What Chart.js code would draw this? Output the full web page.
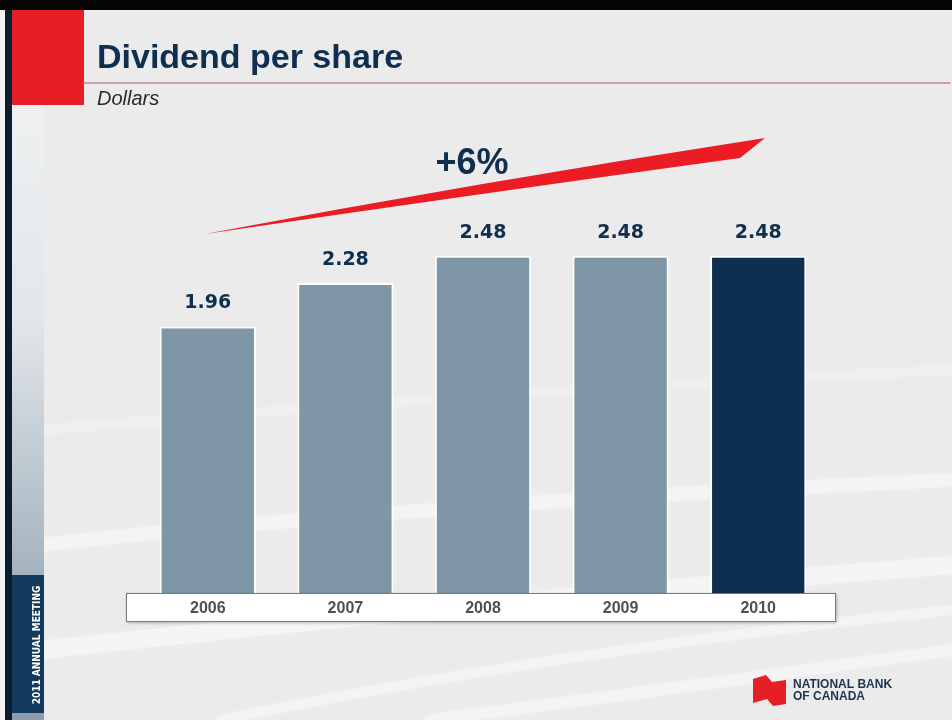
<!DOCTYPE html>
<html>
<head>
<meta charset="utf-8">
<script src="https://cdn.jsdelivr.net/npm/chart.js@4"></script>
<style>
  html, body { margin: 0; padding: 0; background: #ececec; }
  canvas { display: block; }
</style>
</head>
<body>
<canvas id="c" width="952" height="720"></canvas>
<script>
// ---- data ----
const categories = ['2006', '2007', '2008', '2009', '2010'];
const dividends = [1.96, 2.28, 2.48, 2.48, 2.48];
const valueLabels = ['1.96', '2.28', '2.48', '2.48', '2.48'];
const growthLabel = '+6%';
const titleText = 'Dividend per share';
const subtitleText = 'Dollars';
const sideText = '2011 ANNUAL MEETING';
const logoLines = ['NATIONAL BANK', 'OF CANADA'];

// ---- styles ----
const barColors = ['#7e96a6', '#7e96a6', '#7e96a6', '#7e96a6', '#0d3050'];
const navy = '#0f2f4f';

const decor = {
  id: 'decor',
  beforeDraw(chart) {
    const ctx = chart.ctx;
    ctx.save();
    // page background
    ctx.fillStyle = '#ebebeb';
    ctx.fillRect(0, 0, 952, 720);
    // faint swooshes
    ctx.lineCap = 'round';
    const sw = [
      [[40, 545], [400, 505], [952, 480], 'rgba(255,255,255,0.35)', 14],
      [[40, 650], [500, 600], [952, 565], 'rgba(255,255,255,0.4)', 18],
      [[220, 720], [560, 650], [952, 610], 'rgba(255,255,255,0.35)', 10],
      [[430, 720], [650, 692], [952, 650], 'rgba(255,255,255,0.35)', 12],
      [[40, 430], [500, 390], [952, 370], 'rgba(255,255,255,0.18)', 10]
    ];
    ctx.shadowColor = 'rgba(255,255,255,0.6)';
    ctx.shadowBlur = 8;
    sw.forEach(s => {
      ctx.strokeStyle = s[3];
      ctx.lineWidth = s[4];
      ctx.beginPath();
      ctx.moveTo(s[0][0], s[0][1]);
      ctx.quadraticCurveTo(s[1][0], s[1][1], s[2][0], s[2][1]);
      ctx.stroke();
    });
    ctx.shadowColor = 'transparent';
    ctx.shadowBlur = 0;
    // top black band
    ctx.fillStyle = '#050505';
    ctx.fillRect(0, 0, 952, 10);
    // left light strip + dark band
    ctx.fillStyle = '#f2f2f2';
    ctx.fillRect(0, 10, 5, 710);
    ctx.fillStyle = '#0b1e2e';
    ctx.fillRect(5, 10, 7, 710);
    // sidebar column gradient
    const g = ctx.createLinearGradient(0, 105, 0, 575);
    g.addColorStop(0, '#eef0f1');
    g.addColorStop(0.45, '#e3e7ea');
    g.addColorStop(1, '#a3b3bf');
    ctx.fillStyle = g;
    ctx.fillRect(12, 105, 32, 470);
    ctx.fillStyle = '#123a5d';
    ctx.fillRect(12, 575, 32, 138);
    ctx.fillStyle = '#8c9eac';
    ctx.fillRect(12, 713, 32, 7);
    // rotated side text
    ctx.save();
    ctx.translate(37, 645);
    ctx.rotate(-Math.PI / 2);
    ctx.fillStyle = '#ffffff';
    ctx.font = 'bold 10px "DejaVu Sans Condensed", "DejaVu Sans", sans-serif';
    ctx.textAlign = 'center';
    ctx.textBaseline = 'middle';
    ctx.fillText(sideText, 0, 0);
    ctx.restore();
    // red square
    ctx.fillStyle = '#e61e25';
    ctx.fillRect(12, 10, 72, 95);
    // title
    ctx.fillStyle = navy;
    ctx.font = 'bold 34px "Liberation Sans", Arial, sans-serif';
    ctx.textAlign = 'left';
    ctx.textBaseline = 'alphabetic';
    ctx.fillText(titleText, 97, 68);
    // title rule
    ctx.strokeStyle = '#c9868b';
    ctx.lineWidth = 1.5;
    ctx.beginPath();
    ctx.moveTo(84, 83);
    ctx.lineTo(950, 83);
    ctx.stroke();
    // subtitle
    ctx.fillStyle = '#2a2a2a';
    ctx.font = 'italic 20px "Liberation Sans", Arial, sans-serif';
    ctx.fillText(subtitleText, 97, 105);
    // growth arrow
    ctx.fillStyle = '#ec1c24';
    ctx.beginPath();
    ctx.moveTo(205, 234);
    ctx.quadraticCurveTo(480, 182, 765, 138);
    ctx.lineTo(740, 158);
    ctx.quadraticCurveTo(470, 195, 205, 234);
    ctx.closePath();
    ctx.fill();
    // growth label
    ctx.fillStyle = navy;
    ctx.font = 'bold 36px "Liberation Sans", Arial, sans-serif';
    ctx.textAlign = 'center';
    ctx.fillText(growthLabel, 472, 174);
    // logo flag
    ctx.fillStyle = '#e61e25';
    ctx.beginPath();
    ctx.moveTo(753, 679);
    ctx.lineTo(766, 675);
    ctx.lineTo(772, 682);
    ctx.lineTo(786, 680);
    ctx.lineTo(786, 704);
    ctx.lineTo(773, 706);
    ctx.lineTo(767, 699);
    ctx.lineTo(753, 703);
    ctx.closePath();
    ctx.fill();
    ctx.fillStyle = '#1b3550';
    ctx.font = 'bold 12px "Liberation Sans", Arial, sans-serif';
    ctx.textAlign = 'left';
    ctx.fillText(logoLines[0], 793, 688);
    ctx.fillText(logoLines[1], 793, 700);
    ctx.restore();
  },
  afterDatasetsDraw(chart) {
    const ctx = chart.ctx;
    const meta = chart.getDatasetMeta(0);
    const xs = chart.scales.x;
    ctx.save();
    // value labels
    ctx.fillStyle = navy;
    ctx.font = 'bold 19px "DejaVu Sans", sans-serif';
    ctx.textAlign = 'center';
    ctx.textBaseline = 'alphabetic';
    meta.data.forEach((bar, i) => {
      ctx.fillText(valueLabels[i], bar.x, bar.y - 18);
    });
    // category box
    const bottom = chart.chartArea.bottom;
    ctx.shadowColor = 'rgba(0,0,0,0.25)';
    ctx.shadowBlur = 3;
    ctx.shadowOffsetX = 1;
    ctx.shadowOffsetY = 1;
    ctx.fillStyle = '#ffffff';
    ctx.fillRect(126, bottom, 710, 29);
    ctx.shadowColor = 'transparent';
    ctx.strokeStyle = '#7a7a7a';
    ctx.lineWidth = 1;
    ctx.strokeRect(126.5, bottom + 0.5, 709, 28);
    // category labels
    ctx.fillStyle = '#505050';
    ctx.font = 'bold 16px "Liberation Sans", Arial, sans-serif';
    ctx.textBaseline = 'middle';
    categories.forEach((c, i) => {
      ctx.fillText(c, xs.getPixelForValue(i), bottom + 16);
    });
    ctx.restore();
  }
};

new Chart(document.getElementById('c'), {
  type: 'bar',
  data: {
    labels: categories,
    datasets: [{
      data: dividends,
      backgroundColor: barColors,
      borderColor: '#ffffff',
      borderWidth: 2,
      borderSkipped: 'start',
      categoryPercentage: 1.0,
      barPercentage: 0.7
    }]
  },
  options: {
    responsive: false,
    animation: false,
    layout: { padding: { left: 139, right: 125, top: 185, bottom: 127 } },
    plugins: { legend: { display: false }, tooltip: { enabled: false } },
    scales: {
      x: { display: false },
      y: { display: false, min: 0, max: 3 }
    }
  },
  plugins: [decor]
});
</script>
</body>
</html>
